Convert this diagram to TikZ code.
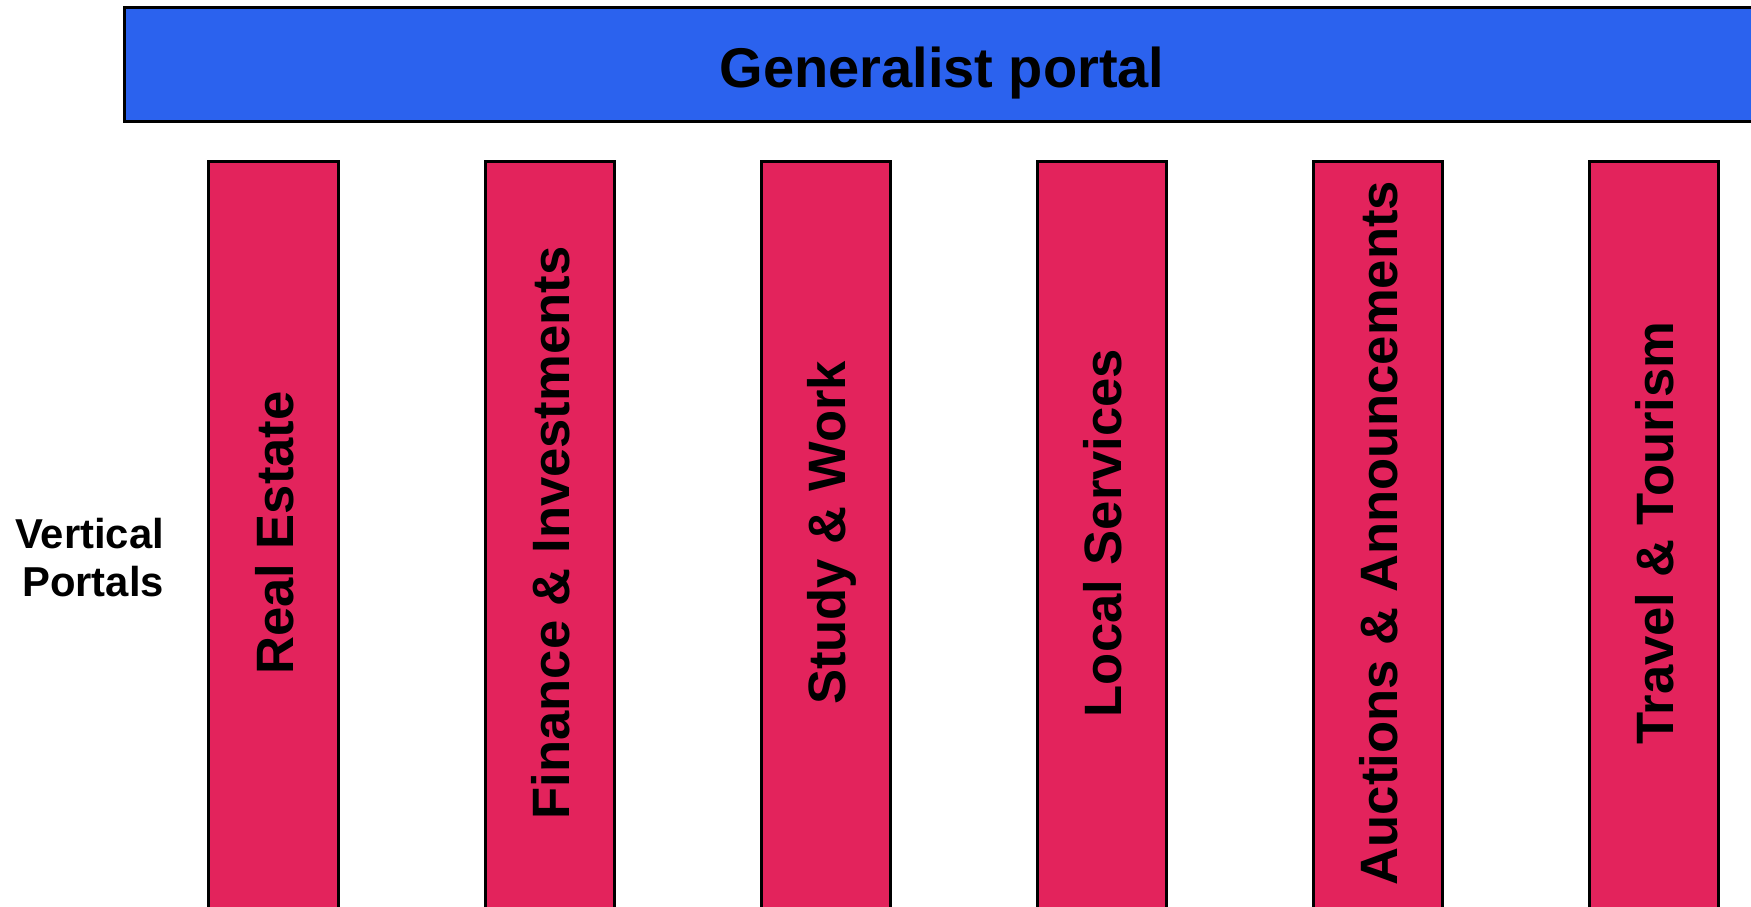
\documentclass[tikz,border=0pt]{standalone}
\usepackage{fontspec}
\setmainfont{Liberation Sans}
\definecolor{portalblue}{RGB}{43,98,238}
\definecolor{verticalpink}{RGB}{227,35,92}
\begin{document}
\begin{tikzpicture}[x=0.5pt,y=-0.5pt,
  genbar/.style={draw=black, line width=1.5pt, fill=portalblue, rectangle,
    minimum width=817.5pt, minimum height=57pt, inner sep=0pt,
    font=\bfseries\fontsize{28}{34}\selectfont, text height=22.5pt, text depth=0pt},
  pillar/.style={draw=black, line width=1.5pt, fill=verticalpink, rectangle,
    minimum width=64.7pt, minimum height=430pt, inner sep=0pt, outer sep=0pt,
    anchor=north},
  pillartext/.style={rotate=90, inner sep=0pt, text height=19.5pt, text depth=0pt,
    font=\bfseries\fontsize{26.3}{32}\selectfont},
  sidelabel/.style={align=right, anchor=east, inner sep=0pt, outer sep=0pt,
    font=\bfseries\fontsize{20.9}{24}\selectfont}]
  \useasboundingbox (0,0) rectangle (1751,906);
  \clip (0,0) rectangle (1751,906);

  % generalist portal bar, running off the right edge
  \node[genbar] (gen) at (942,64.5) {Generalist portal};

  % the six vertical portals
  \foreach \i/\name/\txt in {0/realestate/Real Estate,
                             1/finance/Finance \& Investments,
                             2/study/Study \& Work,
                             3/local/Local Services,
                             4/auctions/Auctions \& Announcements,
                             5/travel/Travel \& Tourism} {
    \node[pillar] (\name) at ({273.65+276.06*\i},161.7) {};
    \node[pillartext] (\name-text) at ({273.65+276.06*\i},533) {\txt};
  }

  \node[sidelabel] (vertical) at (164,558) {Vertical\\Portals};
\end{tikzpicture}
\end{document}
